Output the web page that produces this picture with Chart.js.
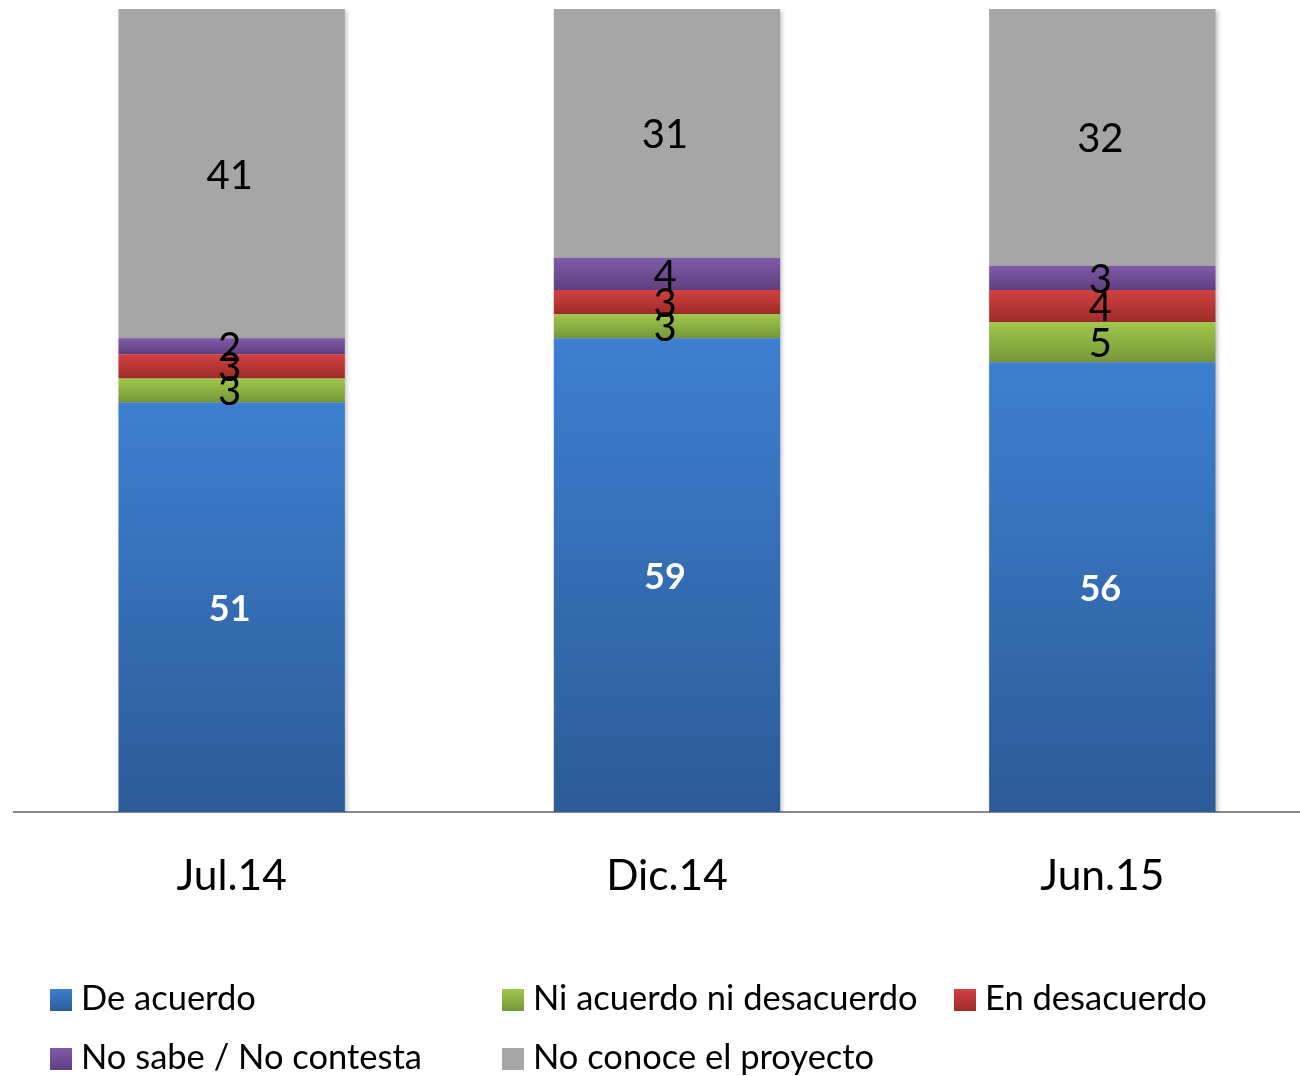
<!DOCTYPE html>
<html lang="es">
<head>
<meta charset="UTF-8">
<title>Grafico</title>
<script src="https://cdn.jsdelivr.net/npm/chart.js"></script>
<style>
  html, body { margin: 0; padding: 0; background: #fff; overflow: hidden; }
  #wrap { position: relative; width: 1300px; height: 1076px; overflow: hidden; }
  #box { position: absolute; left: 0; top: 0; width: 1322px; height: 1076px; }
  #legend { position: absolute; left: 0; top: 0; width: 1300px; height: 1076px; font-family: Lato, "Open Sans", sans-serif; font-size: 34.5px; color: #000; }
  .item { position: absolute; white-space: nowrap; line-height: 40px; }
  .sw { display: inline-block; width: 22px; height: 22px; margin-right: 9px; vertical-align: -1px; }
</style>
</head>
<body>
<div id="wrap">
  <div id="box"><canvas id="myChart"></canvas></div>
  <div id="legend"></div>
</div>
<script>
// datos
const periodos = ['Jul.14', 'Dic.14', 'Jun.15'];
const series = ['De acuerdo', 'Ni acuerdo ni desacuerdo', 'En desacuerdo', 'No sabe / No contesta', 'No conoce el proyecto'];
const deAcuerdo = [51, 59, 56];
const niAcuerdo = [3, 3, 5];
const enDesacuerdo = [3, 3, 4];
const noSabe = [2, 4, 3];
const noConoce = [41, 31, 32];
const valores = [deAcuerdo, niAcuerdo, enDesacuerdo, noSabe, noConoce];

// colores (arriba, abajo)
const colores = [
  ['#3d7fd0', '#2c5b98'],
  ['#9fc84b', '#76963a'],
  ['#d24141', '#9e2b29'],
  ['#815aa9', '#5e3f7f'],
  ['#a6a6a6', '#a6a6a6']
];

function relleno(ctx) {
  const chart = ctx.chart;
  const s = ctx.datasetIndex;
  const i = ctx.dataIndex;
  const y = chart.scales && chart.scales.y;
  if (!y || i === undefined) return colores[s][0];
  let base = 0;
  for (let k = 0; k < s; k++) base += valores[k][i];
  const top = y.getPixelForValue(base + valores[s][i]);
  const bot = y.getPixelForValue(base);
  if (!isFinite(top) || !isFinite(bot) || top === bot) return colores[s][0];
  const g = chart.ctx.createLinearGradient(0, top, 0, bot);
  g.addColorStop(0, colores[s][0]);
  g.addColorStop(1, colores[s][1]);
  return g;
}

// sombra de las barras
const sombra = {
  id: 'sombra',
  beforeDatasetsDraw(chart) {
    const c = chart.ctx;
    c.save();
    c.shadowColor = 'rgba(0,0,0,0.22)';
    c.shadowBlur = 4;
    c.shadowOffsetX = 2;
    c.shadowOffsetY = 2;
  },
  afterDatasetsDraw(chart) {
    chart.ctx.restore();
  }
};

// etiquetas de valores
const etiquetas = {
  id: 'etiquetas',
  afterDatasetsDraw(chart) {
    const c = chart.ctx;
    c.save();
    c.textAlign = 'center';
    c.textBaseline = 'middle';
    chart.data.datasets.forEach((ds, s) => {
      const meta = chart.getDatasetMeta(s);
      meta.data.forEach((bar, i) => {
        const p = bar.getProps(['x', 'y', 'base'], true);
        const yc = (p.y + p.base) / 2;
        if (s === 0) {
          c.font = 'bold 36px Lato, "Open Sans", sans-serif';
          c.fillStyle = '#fff';
        } else {
          c.font = '40px Lato, "Open Sans", sans-serif';
          c.fillStyle = '#000';
        }
        c.fillText(String(ds.data[i]), p.x - 2, yc + 2);
      });
    });
    c.restore();
  }
};

const config = {
  type: 'bar',
  data: {
    labels: periodos,
    datasets: series.map((nombre, s) => ({
      label: nombre,
      data: valores[s],
      backgroundColor: relleno,
      borderWidth: 0,
      categoryPercentage: 1,
      barPercentage: 0.52
    }))
  },
  options: {
    responsive: true,
    maintainAspectRatio: false,
    animation: false,
    layout: { padding: { left: 14, right: 2, top: 9, bottom: 0 } },
    plugins: { legend: { display: false }, tooltip: { enabled: false } },
    scales: {
      x: {
        stacked: true,
        grid: { display: false },
        border: { display: true, color: '#878787', width: 2 },
        ticks: { color: '#000', font: { family: 'Lato, "Open Sans", sans-serif', size: 42.5 }, padding: 31, maxRotation: 0 },
        afterFit(scale) { scale.height = 264; }
      },
      y: {
        stacked: true,
        display: false,
        min: 0,
        max: 100
      }
    }
  },
  plugins: [sombra, etiquetas]
};

new Chart(document.getElementById('myChart'), config);

// leyenda
const posLeyenda = [[50, 977], [502, 977], [954, 977], [50, 1036], [502, 1036]];
const leyenda = document.getElementById('legend');
series.forEach((nombre, s) => {
  const d = document.createElement('div');
  d.className = 'item';
  d.style.left = posLeyenda[s][0] + 'px';
  d.style.top = posLeyenda[s][1] + 'px';
  const sw = document.createElement('span');
  sw.className = 'sw';
  sw.style.background = 'linear-gradient(' + colores[s][0] + ',' + colores[s][1] + ')';
  d.appendChild(sw);
  d.appendChild(document.createTextNode(nombre));
  leyenda.appendChild(d);
});
</script>
</body>
</html>
